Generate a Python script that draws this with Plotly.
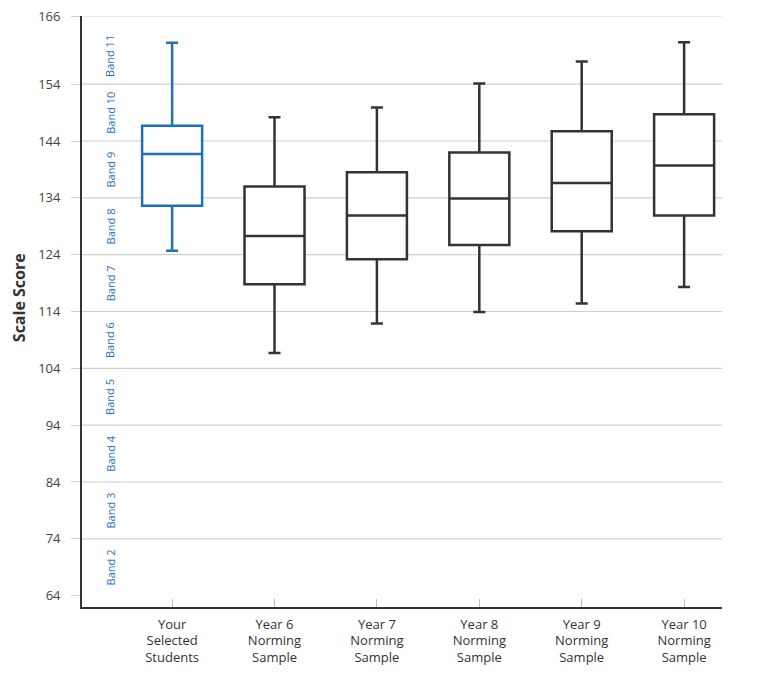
import plotly.graph_objects as go

categories = ["Your<br>Selected<br>Students", "Year 6<br>Norming<br>Sample", "Year 7<br>Norming<br>Sample",
              "Year 8<br>Norming<br>Sample", "Year 9<br>Norming<br>Sample", "Year 10<br>Norming<br>Sample"]
lower_whisker = [124.7, 106.7, 111.9, 113.9, 115.4, 118.3]
q1_values = [132.6, 118.8, 123.2, 125.7, 128.1, 130.9]
median_values = [141.7, 127.3, 130.9, 133.9, 136.6, 139.7]
q3_values = [146.7, 136.0, 138.5, 142.0, 145.7, 148.7]
upper_whisker = [161.3, 148.2, 149.9, 154.1, 158.0, 161.4]

tick_values = [64, 74, 84, 94, 104, 114, 124, 134, 144, 154, 166]
grid_values = [74, 84, 94, 104, 114, 124, 134, 144, 154, 166]
band_labels = ["Band 2", "Band 3", "Band 4", "Band 5", "Band 6", "Band 7", "Band 8", "Band 9", "Band 10", "Band 11"]
band_centers = [69, 79, 89, 99, 109, 119, 129, 139, 149, 159]

BLUE = "#1f6fbf"
DARK = "#333333"
FONT = "Open Sans"

fig = go.Figure()
for i, cat in enumerate(categories):
    color = BLUE if i == 0 else DARK
    fig.add_trace(go.Box(
        x=[cat], q1=[q1_values[i]], median=[median_values[i]], q3=[q3_values[i]],
        lowerfence=[lower_whisker[i]], upperfence=[upper_whisker[i]],
        width=0.586, whiskerwidth=0.2, fillcolor="white",
        line=dict(color=color, width=2.5), boxpoints=False,
        showlegend=False, hoverinfo="skip",
    ))

shapes = [dict(type="line", xref="paper", x0=0, x1=1, yref="y", y0=v, y1=v,
               line=dict(color="#cfcfcf", width=1.2), layer="below") for v in grid_values]

annotations = [dict(x=-0.605, y=c, xref="x", yref="y", text=t, textangle=-90, showarrow=False,
                    font=dict(family=FONT, size=11, color=BLUE)) for t, c in zip(band_labels, band_centers)]
annotations.append(dict(x=-0.098, y=0.523, xref="paper", yref="paper", text="<b>Scale Score</b>",
                        textangle=-90, showarrow=False, xanchor="center", yanchor="middle",
                        font=dict(family=FONT, size=16, color="#333333")))

fig.update_layout(
    width=768, height=699,
    margin=dict(l=74, r=54, t=8, b=100, autoexpand=False),
    paper_bgcolor="white", plot_bgcolor="white",
    font=dict(family=FONT, color="#333333", size=13),
    shapes=shapes, annotations=annotations,
    xaxis=dict(
        categoryorder="array", categoryarray=categories, automargin=False,
        range=[-0.88, 5.37], showgrid=False, zeroline=False,
        showline=True, linecolor="#333333", linewidth=1.8,
        ticks="inside", ticklen=8, tickcolor="#bbbbbb", tickwidth=1,
        tickfont=dict(family=FONT, size=13, color="#333333"),
        ticklabelstandoff=4, ticklabeloverflow="allow",
    ),
    yaxis=dict(
        range=[62, 166], tickvals=tick_values, showgrid=False, zeroline=False, automargin=False,
        showline=True, linecolor="#333333", linewidth=1.8,
        ticks="outside", ticklen=9, tickcolor="#cfcfcf", tickwidth=1.2,
        tickfont=dict(family=FONT, size=13, color="#444444"),
        ticklabelstandoff=8, ticklabeloverflow="allow",
    ),
)

fig.write_html("out.html")
